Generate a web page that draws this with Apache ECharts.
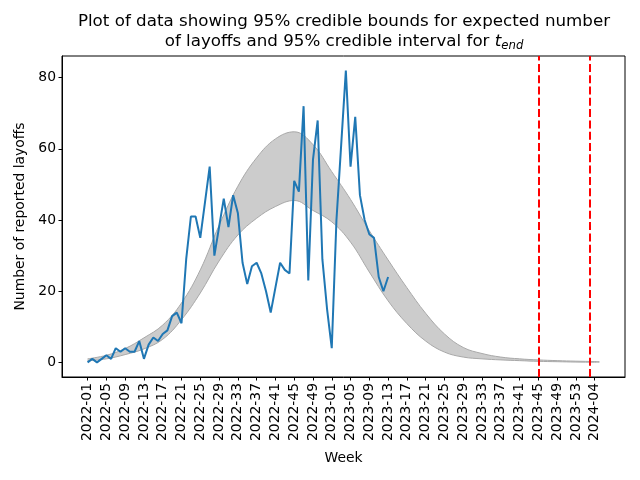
<!DOCTYPE html>
<html>
<head>
    <meta charset="utf-8">
    <script src="https://cdn.jsdelivr.net/npm/echarts@6/dist/echarts.min.js"></script>
    <style>
        html, body { margin: 0; padding: 0; background: #fff; }
    </style>
</head>
<body>
    <div id="main" style="width: 640px;height:480px;"></div>
    <script type="text/javascript">

    // week labels (year-week), weekly from 2022-01 to 2024-05
    var weeksPerYear = [['2022', 52], ['2023', 53], ['2024', 5]];
    var weeks = [];
    weeksPerYear.forEach(function (y) {
        for (var w = 1; w <= y[1]; w++) {
            weeks.push(y[0] + '-' + (w < 10 ? '0' + w : w));
        }
    });

    var tickWeeks = ['2022-01','2022-05','2022-09','2022-13','2022-17','2022-21','2022-25',
        '2022-29','2022-33','2022-37','2022-41','2022-45','2022-49','2023-01','2023-05',
        '2023-09','2023-13','2023-17','2023-21','2023-25','2023-29','2023-33','2023-37',
        '2023-41','2023-45','2023-49','2023-53','2024-04'];
    var yTicks = [0, 20, 40, 60, 80];

    // reported layoffs, one value per week starting 2022-01
    var layoffs = [0, 1, 0, 1, 2, 1, 4, 3, 4, 3,
        3, 6, 1, 5, 7, 6, 8, 9, 13, 14,
        11, 29, 41, 41, 35, 45, 55, 30, 38, 46,
        38, 47, 42, 28, 22, 27, 28, 25, 20, 14,
        21, 28, 26, 25, 51, 48, 72, 23, 57, 68,
        29, 15, 4, 40, 61, 82, 55, 69, 47, 40,
        36, 35, 24, 20, 24];

    // 95% credible bounds for the expected number (read every 4 weeks)
    var bandWeeks = ['2022-01','2022-05','2022-09','2022-13','2022-17','2022-21','2022-25',
        '2022-29','2022-33','2022-37','2022-41','2022-45','2022-49','2023-01','2023-05',
        '2023-09','2023-13','2023-17','2023-21','2023-25','2023-29','2023-33','2023-37',
        '2023-41','2023-45','2023-49','2023-53','2024-04','2024-05'];
    var bandUpper = [1.0, 2.0, 3.9, 6.9, 10.5, 16.7, 26.0, 38.5, 49.5, 57.5, 62.8, 64.8, 61.2,
        53.6, 45.8, 37.0, 28.8, 21.0, 13.8, 8.0, 4.2, 2.5, 1.5, 1.0, 0.7, 0.5, 0.35, 0.25, 0.2];
    var bandLower = [0.5, 1.0, 2.2, 3.8, 6.5, 12.0, 19.5, 28.5, 35.8, 40.5, 43.8, 45.5, 42.7,
        39.5, 33.8, 25.4, 17.3, 10.9, 6.0, 2.9, 1.5, 1.0, 0.7, 0.5, 0.3, 0.2, 0.1, 0.05, 0.05];

    // 95% credible interval for t_end
    var tEnd = ['2023-45', '2024-03'];

    function idx(w) { return weeks.indexOf(w); }

    var font = 'DejaVu Sans';
    var myChart = echarts.init(document.getElementById('main'));

    myChart.setOption({
        animation: false,
        title: {
            text: 'Plot of data showing 95% credible bounds for expected number\nof layoffs and 95% credible interval for {it|t}{sub|end}',
            left: 339,
            top: 7,
            textAlign: 'center',
            textStyle: {
                fontFamily: font,
                fontSize: 16.7,
                fontWeight: 'normal',
                color: '#000',
                lineHeight: 20,
                rich: {
                    it: { fontFamily: font, fontSize: 16.7, fontStyle: 'italic', color: '#000', lineHeight: 20 },
                    sub: { fontFamily: font, fontSize: 11.7, fontStyle: 'italic', color: '#000', lineHeight: 10, verticalAlign: 'bottom' }
                }
            }
        },
        grid: {
            left: 62, right: 15, top: 56, bottom: 103,
            show: true, borderColor: '#000', borderWidth: 1,
            outerBoundsMode: 'none'
        },
        xAxis: {
            type: 'value',
            min: -5.45,
            max: 114.45,
            name: 'Week',
            nameLocation: 'middle',
            nameGap: 74,
            nameTextStyle: { fontFamily: font, fontSize: 13.9, color: '#000' },
            splitLine: { show: false },
            axisLine: { show: true, onZero: false, lineStyle: { color: '#000', width: 1 } },
            axisTick: {
                show: true, length: 3.5, lineStyle: { color: '#000' },
                customValues: tickWeeks.map(idx)
            },
            axisLabel: {
                rotate: 90,
                margin: 6,
                fontFamily: font,
                fontSize: 13.9,
                color: '#000',
                customValues: tickWeeks.map(idx),
                formatter: function (v) { return weeks[Math.round(v)]; }
            }
        },
        yAxis: {
            type: 'value',
            min: -4.1,
            max: 86.1,
            name: 'Number of reported layoffs',
            nameLocation: 'middle',
            nameGap: 34,
            nameTextStyle: { fontFamily: font, fontSize: 13.9, color: '#000' },
            splitLine: { show: false },
            axisLine: { show: true, onZero: false, lineStyle: { color: '#000', width: 1 } },
            axisTick: {
                show: true, length: 3.5, lineStyle: { color: '#000' },
                customValues: yTicks
            },
            axisLabel: {
                margin: 6,
                fontFamily: font,
                fontSize: 13.9,
                color: '#000',
                customValues: yTicks
            }
        },
        series: [
            {
                // upper bound, gray fill down to zero
                type: 'line',
                smooth: 0.4,
                symbol: 'none',
                silent: true,
                lineStyle: { color: '#a8a8a8', width: 1 },
                areaStyle: { color: '#cccccc', opacity: 1, origin: 0 },
                data: bandWeeks.map(function (w, i) { return [idx(w), bandUpper[i]]; }),
                z: 1
            },
            {
                // lower bound, white fill masks the area below it
                type: 'line',
                smooth: 0.4,
                symbol: 'none',
                silent: true,
                lineStyle: { color: '#a8a8a8', width: 1 },
                areaStyle: { color: '#ffffff', opacity: 1, origin: -1 },
                data: bandWeeks.map(function (w, i) { return [idx(w), bandLower[i]]; }),
                z: 2
            },
            {
                type: 'line',
                symbol: 'none',
                lineStyle: { color: '#1f77b4', width: 2 },
                data: layoffs.map(function (v, i) { return [i, v]; }),
                z: 3,
                markLine: {
                    silent: true,
                    symbol: ['none', 'none'],
                    label: { show: false },
                    lineStyle: { color: '#ff0000', width: 2, type: [8, 3.3] },
                    data: tEnd.map(function (w) { return { xAxis: idx(w) }; })
                }
            }
        ]
    });

</script>
</body>
</html>
